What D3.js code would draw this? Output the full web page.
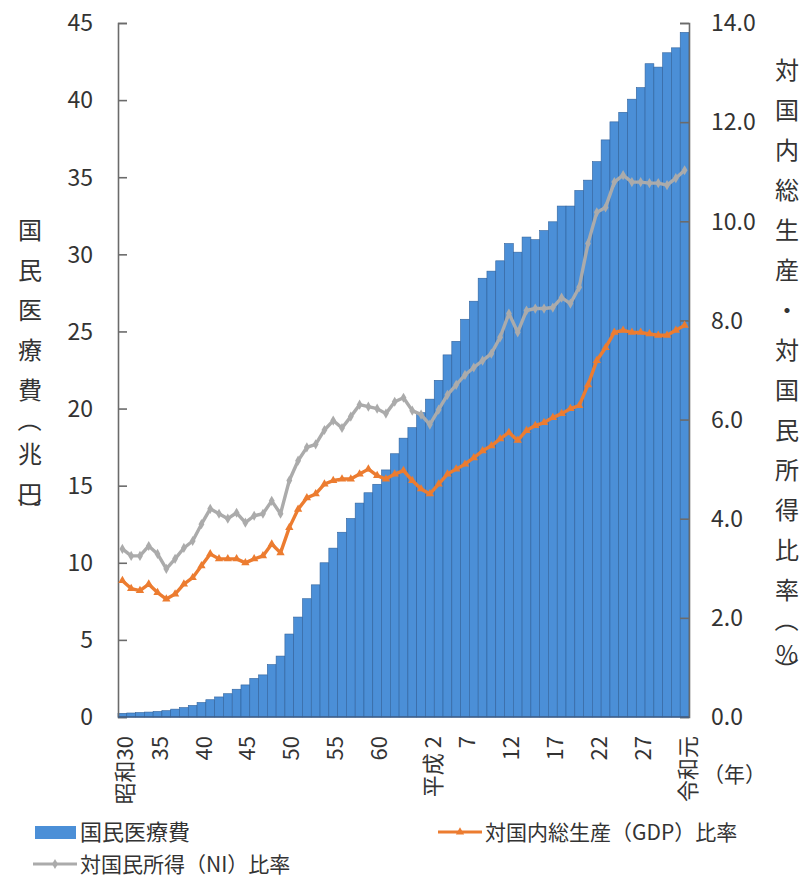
<!doctype html>
<html lang="ja">
<head>
  <meta charset="utf-8">
  <script src="https://cdnjs.cloudflare.com/ajax/libs/d3/7.8.5/d3.min.js"></script>
  <style type="text/css">
    body {
      padding: 0;
      margin: 0;
      background: #fff;
    }
    #canvas {
      display: block;
    }
    text {
      font-family: "Noto Sans CJK JP", "Noto Sans", sans-serif;
      fill: #333;
    }
  </style>
</head>
<body>
<svg id="canvas" width="808" height="881"></svg>
<script>

// 年度（昭和30〜令和元）
var years = [1955, 1956, 1957, 1958, 1959, 1960, 1961, 1962, 1963, 1964,
  1965, 1966, 1967, 1968, 1969, 1970, 1971, 1972, 1973, 1974,
  1975, 1976, 1977, 1978, 1979, 1980, 1981, 1982, 1983, 1984,
  1985, 1986, 1987, 1988, 1989, 1990, 1991, 1992, 1993, 1994,
  1995, 1996, 1997, 1998, 1999, 2000, 2001, 2002, 2003, 2004,
  2005, 2006, 2007, 2008, 2009, 2010, 2011, 2012, 2013, 2014,
  2015, 2016, 2017, 2018, 2019];

// 国民医療費（兆円）
var medicalCost = [0.24, 0.26, 0.29, 0.32, 0.36, 0.41, 0.51, 0.61, 0.75, 0.94,
  1.12, 1.30, 1.51, 1.80, 2.08, 2.50, 2.73, 3.40, 3.95, 5.38,
  6.48, 7.67, 8.57, 10.00, 10.95, 11.98, 12.87, 13.87, 14.54, 15.09,
  16.02, 17.07, 18.08, 18.76, 19.73, 20.61, 21.83, 23.48, 24.36, 25.79,
  26.96, 28.45, 28.91, 29.58, 30.70, 30.14, 31.12, 30.95, 31.54, 32.11,
  33.13, 33.13, 34.14, 34.81, 36.01, 37.42, 38.59, 39.21, 40.06, 40.81,
  42.36, 42.14, 43.07, 43.39, 44.39];

// 対国内総生産（GDP）比率（%）
var gdpRatio = [2.75, 2.59, 2.55, 2.68, 2.51, 2.38, 2.48, 2.68, 2.81, 3.05,
  3.29, 3.19, 3.19, 3.19, 3.11, 3.19, 3.25, 3.49, 3.31, 3.82,
  4.19, 4.42, 4.50, 4.70, 4.77, 4.80, 4.80, 4.90, 5.00, 4.87,
  4.80, 4.90, 4.97, 4.77, 4.60, 4.50, 4.70, 4.90, 5.00, 5.10,
  5.23, 5.37, 5.47, 5.61, 5.74, 5.58, 5.78, 5.88, 5.94, 6.04,
  6.12, 6.22, 6.28, 6.70, 7.19, 7.45, 7.76, 7.80, 7.76, 7.76,
  7.73, 7.70, 7.70, 7.80, 7.90];

// 対国民所得（NI）比率（%）
var niRatio = [3.39, 3.25, 3.25, 3.45, 3.29, 2.99, 3.19, 3.41, 3.55, 3.89,
  4.20, 4.10, 4.00, 4.12, 3.92, 4.06, 4.10, 4.36, 4.10, 4.77,
  5.17, 5.44, 5.50, 5.79, 5.98, 5.83, 6.06, 6.30, 6.26, 6.22,
  6.12, 6.36, 6.44, 6.18, 6.10, 5.90, 6.20, 6.50, 6.70, 6.90,
  7.05, 7.19, 7.33, 7.66, 8.14, 7.76, 8.20, 8.24, 8.24, 8.26,
  8.46, 8.34, 8.67, 9.55, 10.18, 10.28, 10.79, 10.93, 10.79, 10.79,
  10.77, 10.77, 10.73, 10.87, 11.03];

var xTickYears = [1955, 1960, 1965, 1970, 1975, 1980, 1985, 1990, 1995, 2000, 2005, 2010, 2015, 2019];
var xTickLabels = ['昭和30', '35', '40', '45', '50', '55', '60', '平成 2', '7', '12', '17', '22', '27', '令和元'];
var leftTicks = [0, 5, 10, 15, 20, 25, 30, 35, 40, 45];
var rightTicks = [0, 2, 4, 6, 8, 10, 12, 14];
var leftTitle = ['国', '民', '医', '療', '費', '（', '兆', '円', '）'];
var rightTitle = ['対', '国', '内', '総', '生', '産', '・', '対', '国', '民', '所', '得', '比', '率', '（', '%', '）'];
var legendLabels = ['国民医療費', '対国内総生産（GDP）比率', '対国民所得（NI）比率'];

var barColor = '#4b8fd7';
var barEdge = '#30629c';
var gdpColor = '#ec7c30';
var niColor = '#ababab';
var axisColor = '#6b6b6b';

var plotLeft = 118, plotRight = 689, plotTop = 23, plotBottom = 717;

var svg = d3.select('#canvas');

var x = d3.scaleBand()
  .domain(years)
  .range([plotLeft, plotRight])
  .padding(0);

var yLeft = d3.scaleLinear().domain([0, 45]).range([plotBottom, plotTop]);
var yRight = d3.scaleLinear().domain([0, 14]).range([plotBottom, plotTop]);

function cx(d, i) { return x(years[i]) + x.bandwidth() / 2; }

// bars
svg.append('g').selectAll('rect').data(medicalCost).enter().append('rect')
  .attr('x', function(d, i) { return x(years[i]); })
  .attr('y', function(d) { return yLeft(d); })
  .attr('width', x.bandwidth())
  .attr('height', function(d) { return plotBottom - yLeft(d); })
  .attr('fill', barColor)
  .attr('stroke', barEdge)
  .attr('stroke-width', 0.6);

// axes
var leftAxis = d3.axisRight(yLeft).tickValues(leftTicks).tickSize(9).tickFormat('');
var gl = svg.append('g').attr('transform', 'translate(' + plotLeft + ',0)').call(leftAxis);
var rightAxis = d3.axisLeft(yRight).tickValues(rightTicks).tickSize(9).tickFormat('');
var gr = svg.append('g').attr('transform', 'translate(' + plotRight + ',0)').call(rightAxis);
[gl, gr].forEach(function(g) {
  g.select('.domain').attr('stroke', axisColor).attr('stroke-width', 1.6);
  g.selectAll('.tick line').attr('stroke', axisColor).attr('stroke-width', 1.6);
});

svg.append('line')
  .attr('x1', plotLeft).attr('x2', plotRight)
  .attr('y1', plotBottom).attr('y2', plotBottom)
  .attr('stroke', '#3f5f88')
  .attr('stroke-width', 1.6);

svg.append('g').selectAll('text').data(leftTicks).enter().append('text')
  .attr('x', 93)
  .attr('y', function(d) { return yLeft(d); })
  .attr('dy', '0.36em')
  .attr('text-anchor', 'end')
  .style('font-size', '23px')
  .text(function(d) { return d; });

svg.append('g').selectAll('text').data(rightTicks).enter().append('text')
  .attr('x', 711)
  .attr('y', function(d) { return yRight(d); })
  .attr('dy', '0.36em')
  .style('font-size', '23px')
  .text(function(d) { return d3.format('.1f')(d); });

// digit labels sit on their baseline at the tick, era names are centred on it
svg.append('g').selectAll('text').data(xTickYears).enter().append('text')
  .attr('transform', function(d) {
    return 'translate(' + (x(d) + x.bandwidth() / 2) + ',736) rotate(-90)';
  })
  .attr('dy', function(d, i) { return /^\d+$/.test(xTickLabels[i]) ? '0.06em' : '0.5em'; })
  .attr('text-anchor', 'end')
  .style('font-size', '22px')
  .text(function(d, i) { return xTickLabels[i]; });

svg.append('text')
  .attr('x', 703).attr('y', 774)
  .attr('dy', '0.36em')
  .style('font-size', '21px')
  .text('（年）');

// vertical axis titles; brackets are turned to sit in the column
function verticalTitle(chars, xPos, y0) {
  var y = y0, pos = [];
  chars.forEach(function(c, i) {
    if (i > 0) {
      if (c === '（') y += 30;
      else if (c === '）') y += 16;
      else if (chars[i - 1] === '（') y += 34;
      else y += 40;
    }
    pos.push(y);
  });
  svg.append('g').selectAll('text').data(chars).enter().append('text')
    .attr('transform', function(d, i) {
      var t = 'translate(' + xPos + ',' + pos[i] + ')';
      return (d === '（' || d === '）') ? t + ' rotate(90)' : t;
    })
    .attr('dy', '0.36em')
    .attr('text-anchor', 'middle')
    .style('font-size', '24px')
    .text(function(d) { return d; });
}
verticalTitle(leftTitle, 30, 230);
verticalTitle(rightTitle, 787, 70);

// lines
function drawSeries(values, color, marker) {
  var line = d3.line()
    .x(function(d, i) { return cx(d, i); })
    .y(function(d) { return yRight(d); });
  svg.append('path')
    .datum(values)
    .attr('d', line)
    .attr('fill', 'none')
    .attr('stroke', color)
    .attr('stroke-width', 3.4)
    .attr('stroke-linejoin', 'round');
  svg.append('g').selectAll('path').data(values).enter().append('path')
    .attr('transform', function(d, i) { return 'translate(' + cx(d, i) + ',' + yRight(d) + ')'; })
    .attr('d', d3.symbol().type(marker).size(30))
    .attr('fill', color);
}
drawSeries(niRatio, niColor, d3.symbolDiamond);
drawSeries(gdpRatio, gdpColor, d3.symbolTriangle);

// legend
var legend = svg.append('g');
legend.append('rect')
  .attr('x', 35).attr('y', 826)
  .attr('width', 41).attr('height', 13)
  .attr('fill', barColor);
legend.append('text')
  .attr('x', 80).attr('y', 832)
  .attr('dy', '0.36em')
  .style('font-size', '22px')
  .text(legendLabels[0]);

function legendLine(x0, y0, color, marker, label) {
  legend.append('line')
    .attr('x1', x0).attr('x2', x0 + 44)
    .attr('y1', y0).attr('y2', y0)
    .attr('stroke', color).attr('stroke-width', 3);
  legend.append('path')
    .attr('transform', 'translate(' + (x0 + 22) + ',' + y0 + ')')
    .attr('d', d3.symbol().type(marker).size(30))
    .attr('fill', color);
  legend.append('text')
    .attr('x', x0 + 47).attr('y', y0)
    .attr('dy', '0.36em')
    .style('font-size', '21px')
    .text(label);
}
legendLine(438, 832, gdpColor, d3.symbolTriangle, legendLabels[1]);
legendLine(33, 864, niColor, d3.symbolDiamond, legendLabels[2]);

</script>
</body>
</html>
